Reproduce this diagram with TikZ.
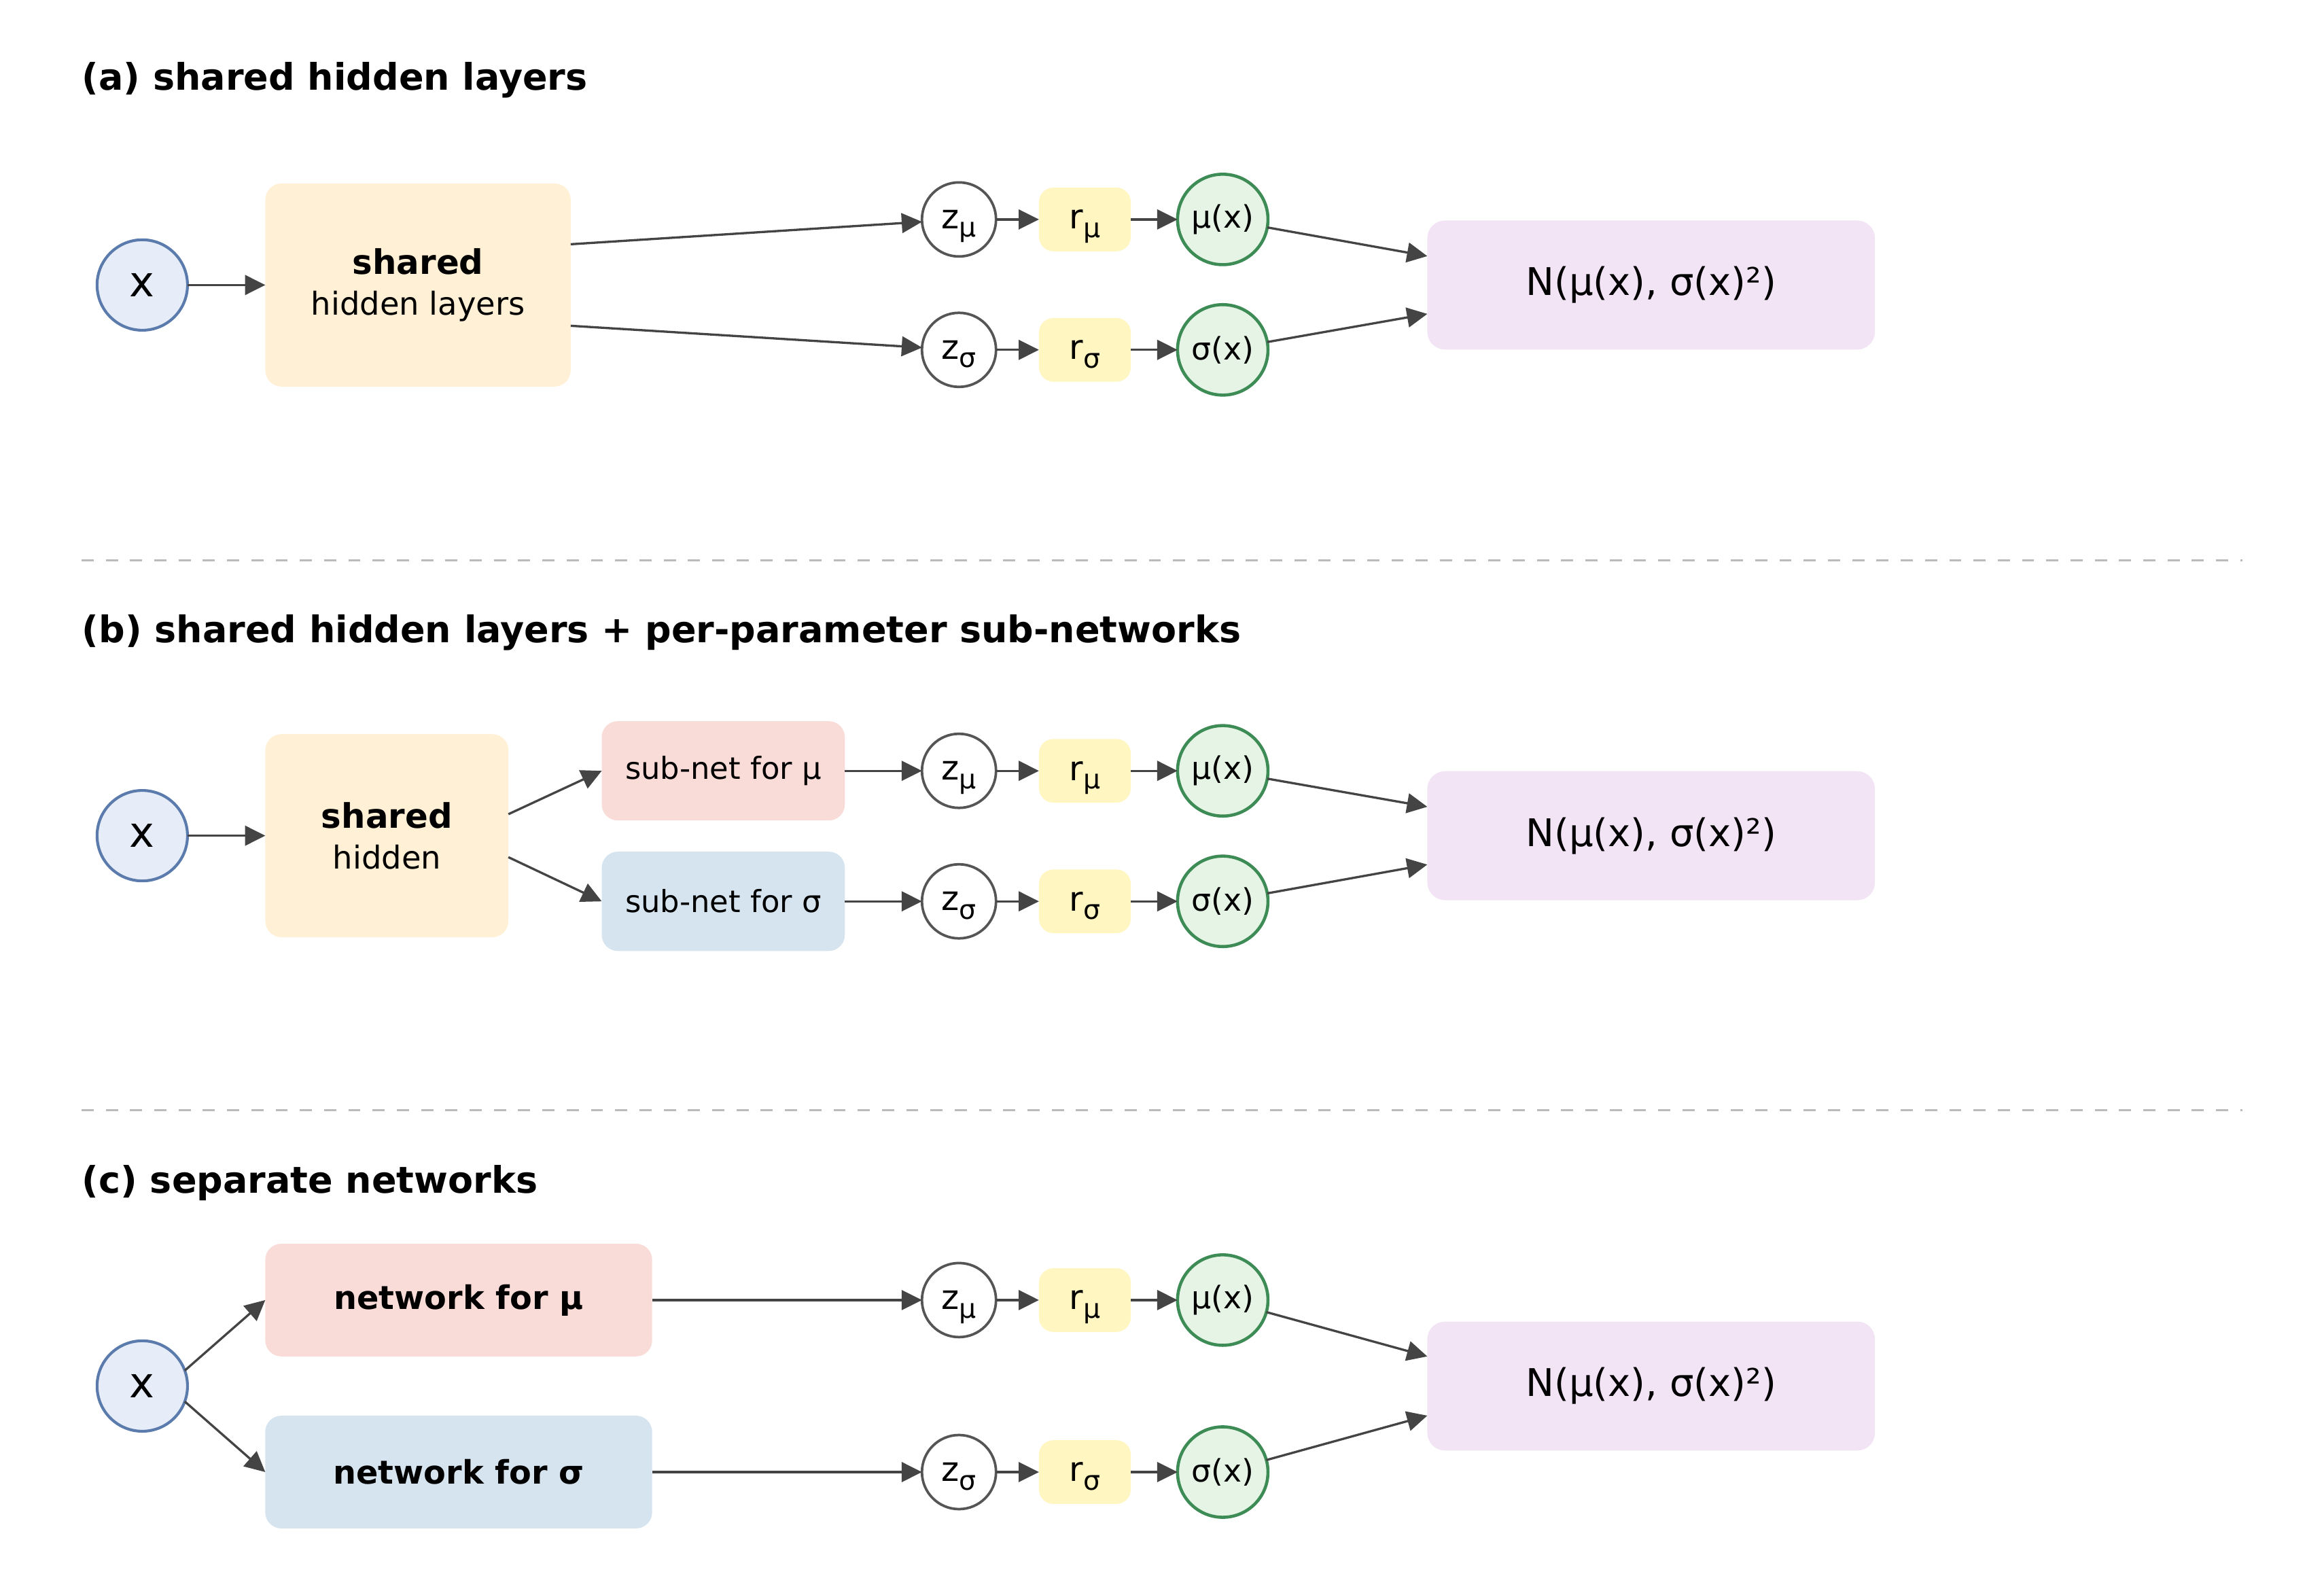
\documentclass[tikz,border=0pt]{standalone}
\usepackage{fontspec}
\setmainfont{DejaVu Sans}
\usepackage{xcolor}
\usetikzlibrary{arrows.meta, positioning}
\definecolor{inpfill}{HTML}{E6EDF8}
\definecolor{inpdraw}{HTML}{5B7BAD}
\definecolor{shfill}{HTML}{FFF0D6}
\definecolor{zdraw}{HTML}{555555}
\definecolor{rfill}{HTML}{FFF6C2}
\definecolor{outfill}{HTML}{E6F4E6}
\definecolor{outdraw}{HTML}{3D8B55}
\definecolor{nfill}{HTML}{F2E4F5}
\definecolor{mufill}{HTML}{F9DBD8}
\definecolor{sgfill}{HTML}{D6E4EF}
\definecolor{arrgray}{HTML}{444444}
\definecolor{sepgray}{HTML}{BBBBBB}
% lowered index, kept out of the node height
\newcommand{\lowidx}[1]{\raisebox{-3pt}[0pt][0pt]{\fontsize{9.5}{10}\selectfont #1}}
\tikzset{
    inp/.style    = {circle, draw=inpdraw, fill=inpfill, line width=1pt, minimum size=1.127cm,
                     inner sep=0pt, outer sep=0pt, font=\fontsize{15}{18}\selectfont},
    shbox/.style  = {rectangle, rounded corners=0.2cm, fill=shfill, align=center, inner sep=0pt,
                     outer sep=0pt, minimum height=2.53cm, font=\fontsize{11.2}{14.5}\selectfont},
    subbox/.style = {rectangle, rounded corners=0.2cm, inner sep=0pt, outer sep=0pt,
                     minimum width=3.029cm, minimum height=1.237cm, font=\fontsize{10.8}{13}\selectfont},
    netbox/.style = {rectangle, rounded corners=0.2cm, inner sep=0pt, outer sep=0pt,
                     minimum width=4.821cm, minimum height=1.404cm, font=\fontsize{11.5}{14}\selectfont\bfseries},
    zc/.style     = {circle, draw=zdraw, fill=white, line width=0.9pt, minimum size=0.923cm,
                     inner sep=0pt, outer sep=0pt, font=\fontsize{12}{14}\selectfont},
    rbox/.style   = {rectangle, rounded corners=0.18cm, fill=rfill, inner sep=0pt, outer sep=0pt,
                     minimum width=1.145cm, minimum height=0.794cm, font=\fontsize{12}{14}\selectfont},
    outc/.style   = {circle, draw=outdraw, fill=outfill, line width=1.1pt, minimum size=1.127cm,
                     inner sep=0pt, outer sep=0pt, font=\fontsize{11}{13}\selectfont},
    nbox/.style   = {rectangle, rounded corners=0.22cm, fill=nfill, inner sep=0pt, outer sep=0pt,
                     minimum width=5.578cm, minimum height=1.607cm, font=\fontsize{13.5}{16}\selectfont},
    ttl/.style    = {anchor=west, inner sep=0pt, font=\fontsize{13}{16}\selectfont\bfseries},
    sepline/.style = {draw=sepgray, line width=0.65pt, dash pattern=on 4.3pt off 4.3pt},
    lig/.style    = {-{Triangle[length=7.2pt, width=7pt]}, line width=0.8pt, draw=arrgray, fill=arrgray},
}

\begin{document}
\begin{tikzpicture}
    \useasboundingbox (0,0) rectangle (28.96,-19.82);
    % (a) shared hidden layers
    \node[ttl] (tA) at (1.016,-1.0) {(a) shared hidden layers};
    \node[inp] (xA) at (1.773,-3.551) {x};
    \node[shbox, minimum width=3.805cm, right=0.97cm of xA] (shA) {{\fontsize{12}{14.5}\selectfont\bfseries shared}\\hidden layers};
    \node[zc] (zmuA) at (11.95,-2.734) {z\lowidx{μ}};
    \node[rbox, right=0.535cm of zmuA] (rmuA) {r\lowidx{μ}};
    \node[outc, right=0.582cm of rmuA] (muA) {μ(x)};
    \node[zc] (zsgA) at (11.95,-4.359) {z\lowidx{σ}};
    \node[rbox, right=0.535cm of zsgA] (rsgA) {r\lowidx{σ}};
    \node[outc, right=0.582cm of rsgA] (sgA) {σ(x)};
    \node[nbox] (NA) at (20.575,-3.551) {N(μ(x), σ(x)²)};
    \draw[lig] (xA) -- (shA);
    \draw[lig] ([yshift=0.508cm]shA.east) -- (zmuA);
    \draw[lig] ([yshift=-0.508cm]shA.east) -- (zsgA);
    \draw[lig] (zmuA) -- (rmuA);
    \draw[lig] (rmuA) -- (muA);
    \draw[lig] (zsgA) -- (rsgA);
    \draw[lig] (rsgA) -- (sgA);
    \draw[lig] (muA) -- ([yshift=0.36cm]NA.west);
    \draw[lig] (sgA) -- ([yshift=-0.36cm]NA.west);

    \draw[sepline] (1.016,-6.982) -- (27.945,-6.982);

    % (b) shared hidden layers + sub-networks
    \node[ttl] (tB) at (1.016,-7.88) {(b) shared hidden layers + per-parameter sub-networks};
    \node[inp] (xB) at (1.773,-10.412) {x};
    \node[shbox, minimum width=3.029cm, right=0.97cm of xB] (shB) {{\fontsize{12}{14.5}\selectfont\bfseries shared}\\hidden};
    \node[subbox, fill=mufill] (subMu) at (9.013,-9.604) {sub-net for μ};
    \node[subbox, fill=sgfill] (subSg) at (9.013,-11.230) {sub-net for σ};
    \node[zc] (zmuB) at (11.95,-9.604) {z\lowidx{μ}};
    \node[rbox, right=0.535cm of zmuB] (rmuB) {r\lowidx{μ}};
    \node[outc, right=0.582cm of rmuB] (muB) {μ(x)};
    \node[zc] (zsgB) at (11.95,-11.230) {z\lowidx{σ}};
    \node[rbox, right=0.535cm of zsgB] (rsgB) {r\lowidx{σ}};
    \node[outc, right=0.582cm of rsgB] (sgB) {σ(x)};
    \node[nbox] (NB) at (20.575,-10.412) {N(μ(x), σ(x)²)};
    \draw[lig] (xB) -- (shB);
    \draw[lig] ([yshift=0.268cm]shB.east) -- (subMu.west);
    \draw[lig] ([yshift=-0.268cm]shB.east) -- (subSg.west);
    \draw[lig] (subMu) -- (zmuB);
    \draw[lig] (subSg) -- (zsgB);
    \draw[lig] (zmuB) -- (rmuB);
    \draw[lig] (rmuB) -- (muB);
    \draw[lig] (zsgB) -- (rsgB);
    \draw[lig] (rsgB) -- (sgB);
    \draw[lig] (muB) -- ([yshift=0.36cm]NB.west);
    \draw[lig] (sgB) -- ([yshift=-0.36cm]NB.west);

    \draw[sepline] (1.016,-13.834) -- (27.945,-13.834);

    % (c) separate networks
    \node[ttl] (tC) at (1.016,-14.735) {(c) separate networks};
    \node[inp] (xC) at (1.773,-17.269) {x};
    \node[netbox, fill=mufill] (netMu) at (5.716,-16.198) {network for μ};
    \node[netbox, fill=sgfill] (netSg) at (5.716,-18.341) {network for σ};
    \node[zc] (zmuC) at (11.95,-16.198) {z\lowidx{μ}};
    \node[rbox, right=0.535cm of zmuC] (rmuC) {r\lowidx{μ}};
    \node[outc, right=0.582cm of rmuC] (muC) {μ(x)};
    \node[zc] (zsgC) at (11.95,-18.341) {z\lowidx{σ}};
    \node[rbox, right=0.535cm of zsgC] (rsgC) {r\lowidx{σ}};
    \node[outc, right=0.582cm of rsgC] (sgC) {σ(x)};
    \node[nbox] (NC) at (20.575,-17.269) {N(μ(x), σ(x)²)};
    \draw[lig] (xC.20) -- (netMu.west);
    \draw[lig] (xC.-20) -- (netSg.west);
    \draw[lig] (netMu) -- (zmuC);
    \draw[lig] (netSg) -- (zsgC);
    \draw[lig] (zmuC) -- (rmuC);
    \draw[lig] (rmuC) -- (muC);
    \draw[lig] (zsgC) -- (rsgC);
    \draw[lig] (rsgC) -- (sgC);
    \draw[lig] (muC) -- ([yshift=0.369cm]NC.west);
    \draw[lig] (sgC) -- ([yshift=-0.369cm]NC.west);
\end{tikzpicture}
\end{document}
